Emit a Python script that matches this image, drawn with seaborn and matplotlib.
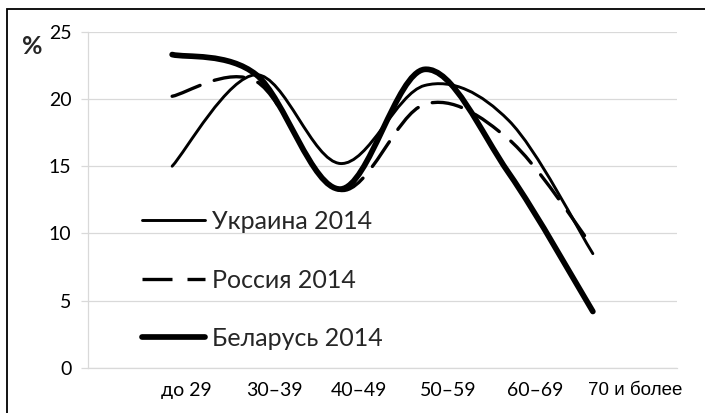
import matplotlib
matplotlib.use("Agg")
import matplotlib.pyplot as plt
from matplotlib.path import Path
from matplotlib.patches import PathPatch, Rectangle
from matplotlib.lines import Line2D
import seaborn as sns
import numpy as np
import pandas as pd

# Data (% of population by age group)
age_groups = ["до 29", "30–39", "40–49", "50–59", "60–69", "70 и более"]
ukraine = [15.0, 21.8, 15.2, 21.0, 18.4, 8.5]
russia = [20.2, 21.3, 13.2, 19.6, 17.0, 9.0]
belarus = [23.3, 21.8, 13.3, 22.2, 14.5, 4.2]
series_names = ["Украина 2014", "Россия 2014", "Беларусь 2014"]

df = pd.DataFrame({
    "pos": list(range(len(age_groups))) * 3,
    "value": ukraine + russia + belarus,
    "country": np.repeat(series_names, len(age_groups)),
})

sns.set_theme(style="white")
plt.rcParams["font.family"] = ["Lato", "DejaVu Sans"]

fig = plt.figure(figsize=(7.05, 4.13), dpi=100)
ax = fig.add_axes([88 / 705, 1 - 368 / 413, 589 / 705, 336.3 / 413])

styles = {
    "Украина 2014": dict(lw=2.1, ls="-"),
    "Россия 2014": dict(lw=2.4, ls=(0, (9, 4.5))),
    "Беларусь 2014": dict(lw=4.1, ls="-"),
}

sns.lineplot(data=df, x="pos", y="value", hue="country", hue_order=series_names,
             palette=["black"] * 3, legend=False, ax=ax)


def smooth_path(x, y):
    # Excel-like smoothed line: cubic Bezier through every data point
    pts = np.column_stack([x, y])
    n = len(pts)
    verts = [pts[0]]
    codes = [Path.MOVETO]
    for i in range(n - 1):
        p_prev = pts[max(i - 1, 0)]
        p_next2 = pts[min(i + 2, n - 1)]
        c1 = pts[i] + (pts[i + 1] - p_prev) / 6
        c2 = pts[i + 1] - (p_next2 - pts[i]) / 6
        verts += [c1, c2, pts[i + 1]]
        codes += [Path.CURVE4] * 3
    return Path(verts, codes)


# replace seaborn's straight segments by smoothed curves
for line, name in zip(ax.lines, series_names):
    x, y = line.get_xdata(), line.get_ydata()
    line.set_visible(False)
    st = styles[name]
    ax.add_patch(PathPatch(smooth_path(x, y), facecolor="none", edgecolor="black",
                           lw=st["lw"], linestyle=st["ls"], capstyle="round",
                           joinstyle="round", zorder=3))

ax.set_xlim(-1, 6)
ax.set_ylim(0, 25)
ax.set_yticks([0, 5, 10, 15, 20, 25])
ax.yaxis.grid(True, color="#d9d9d9", lw=0.9)
ax.set_axisbelow(True)
for s in ["top", "right"]:
    ax.spines[s].set_visible(False)
for s in ["left", "bottom"]:
    ax.spines[s].set_color("#d9d9d9")
    ax.spines[s].set_linewidth(0.9)

# tick marks at category boundaries, labels slightly offset as in the original
ax.set_xticks(np.arange(-1, 7), minor=True)
ax.set_xticks([0.17, 1.22, 2.22, 3.28, 4.32, 5.5])
ax.set_xticklabels(age_groups)
ax.tick_params(axis="x", which="minor", length=5, color="#d9d9d9", width=0.9, direction="out")
ax.tick_params(axis="x", which="major", length=0, pad=10, labelsize=14, labelcolor="black")
ax.tick_params(axis="y", length=5, color="#d9d9d9", width=0.9, labelsize=14,
               labelcolor="black", pad=7, left=True)
ax.set_xlabel("")
ax.set_ylabel("")
ax.get_xticklabels()[-1].set_family(["Liberation Sans", "DejaVu Sans"])
ax.get_xticklabels()[-1].set_fontsize(13.5)

fig.text(32 / 705, 1 - 46 / 413, "%", fontsize=18, fontweight="bold",
         ha="center", va="center")

handles = [Line2D([], [], color="black", lw=styles[n]["lw"], ls=styles[n]["ls"])
           for n in series_names]
ax.legend(handles, series_names, loc="center left",
          bbox_to_anchor=((142 - 88) / 589, (368 - 280) / 336.3),
          frameon=False, fontsize=18, handlelength=2.5, handletextpad=0.3,
          labelspacing=1.42, borderpad=0, borderaxespad=0)

# outer frame of the original (cut at right and bottom)
fig.patches.append(Rectangle((7 / 705, -0.1), 1.2, 1 - 9 / 413 + 0.1,
                             transform=fig.transFigure, fill=False,
                             edgecolor="black", lw=1.3))

fig.savefig("out.png", dpi=100)
